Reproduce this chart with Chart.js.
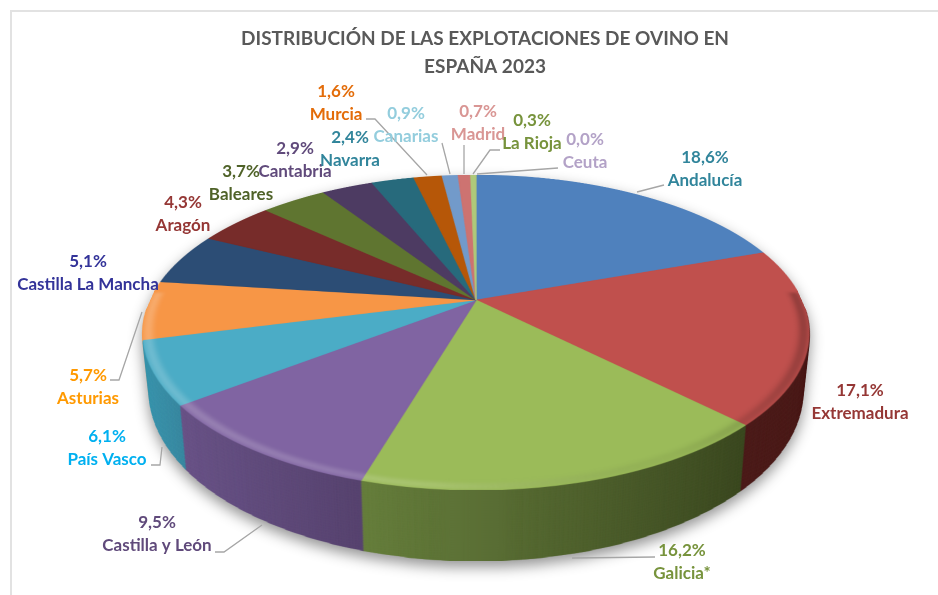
<!DOCTYPE html>
<html>
<head>
<meta charset="utf-8">
<script src="https://cdn.jsdelivr.net/npm/chart.js@4"></script>
<style>
  html, body { margin: 0; background: #fff; overflow: hidden; }
  #frame { position: absolute; left: 10px; top: 10px; width: 940px; height: 600px; border: 2px solid #e2e2e2; box-sizing: border-box; }
  #myChart { position: absolute; left: 0; top: 0; }
</style>
</head>
<body>
<div id="frame"></div>
<canvas id="myChart" width="938" height="595"></canvas>
<script>
var categories = ["Andalucía", "Extremadura", "Galicia*", "Castilla y León", "País Vasco", "Asturias", "Castilla La Mancha", "Aragón", "Baleares", "Cantabria", "Navarra", "Murcia", "Canarias", "Madrid", "La Rioja", "Ceuta"];
var shares = [18.6, 17.1, 16.2, 9.5, 6.1, 5.7, 5.1, 4.3, 3.7, 2.9, 2.4, 1.6, 0.9, 0.7, 0.3, 0.0];

var sliceColors = ["#4f81bd", "#c0504d", "#9bbb59", "#8064a2", "#4bacc6", "#f79646", "#2c4d75", "#772c2a", "#5f7530", "#4d3b62", "#276a7c", "#b65708", "#729aca", "#cd7371", "#afc97a", "#a18bbb"];
var wallLeft = ["#2f4d71", "#4e1e1c", "#677f3d", "#6b5589", "#3f9ab2", "#f79646", "#2c4d75", "#772c2a", "#5f7530", "#4d3b62", "#276a7c", "#b65708", "#729aca", "#cd7371", "#afc97a", "#a18bbb"];
var wallRight = ["#2f4d71", "#4e1e1c", "#3d4a22", "#584470", "#3b8aa2", "#f79646", "#2c4d75", "#772c2a", "#5f7530", "#4d3b62", "#276a7c", "#b65708", "#729aca", "#cd7371", "#afc97a", "#a18bbb"];
var textColors = ["#31859b", "#953735", "#77933c", "#604a7b", "#00b0f0", "#ff9900", "#333399", "#953735", "#4f6228", "#604a7b", "#31859b", "#e36c09", "#93cddd", "#d99694", "#77933c", "#b3a2c7"];

// text centre of each label, first line
var labelAt = [[705, 158], [860, 391], [682, 551], [157, 523], [107, 437], [88, 376], [88, 262], [183, 203], [241, 172], [295, 149], [350, 138], [336, 92], [406, 114], [478, 112], [532, 121], [585, 140]];
var leaders = [
  [[664, 185], [637, 192]],
  [[655, 557], [572, 558]],
  [[215, 552], [224, 552], [262, 525]],
  [[151, 465], [160, 465], [162, 447]],
  [[110, 380], [119, 380], [142, 312]],
  [[366, 119], [375, 119], [427, 175]],
  [[442, 143], [450, 174]],
  [[464, 145], [464, 174]],
  [[500, 150], [490, 150], [473, 174]],
  [[558, 168], [477, 174]]
];

// perspective of the pie plane, apex is where the slices meet
var apexX = 476, apexY = 300;
var planeA = 325.8, planeB = 150.8, planeK = 0.206;
var yBack = 175, yFront = 490, depth = 56, narrowing = 0.02;
var flatR = 400, superSample = 2;

var makeCanvas = function (w, h) {
  var c = document.createElement("canvas");
  c.width = w;
  c.height = h;
  return c;
};

var flatPie = function (arcs, fillFor) {
  var flat = makeCanvas(flatR * 2, flatR * 2);
  var fctx = flat.getContext("2d");
  var scale = flatR / arcs[0].outerRadius;
  fctx.save();
  fctx.translate(flatR, flatR);
  fctx.scale(scale, scale);
  fctx.translate(-arcs[0].x, -arcs[0].y);
  arcs.forEach(function (arc, i) {
    if (!arc.circumference) return;
    var saved = arc.options;
    var fill = fillFor(fctx, arc, i);
    arc.options = Object.assign({}, saved, { backgroundColor: fill, borderColor: fill });
    arc.draw(fctx);
    arc.options = saved;
  });
  fctx.restore();
  return flat;
};

var warpRows = function (target, flat, from, to, drop) {
  var step = 1 / superSample;
  for (var py = from; py < to; py += step) {
    var yr = py - apexY;
    var v = yr / (planeB + planeK * yr);
    var vNext = (yr + step) / (planeB + planeK * (yr + step));
    var w = 1 - planeK * v;
    var half = planeA / w * (1 - narrowing * drop / depth);
    var off = Math.round(drop / w * superSample) / superSample;
    target.drawImage(flat, 0, (v + 1) * flatR, flatR * 2, (vNext - v) * flatR,
      apexX - half, py + off, half * 2, drop ? step * 2 : step);
  }
};

var addRim = function (flat) {
  // lit edge along the front of the top face
  var fctx = flat.getContext("2d");
  var g = fctx.createLinearGradient(0, 0, flatR * 2, 0);
  g.addColorStop(0, "rgba(255,255,255,0.22)");
  g.addColorStop(0.45, "rgba(255,255,255,0.14)");
  g.addColorStop(0.75, "rgba(0,0,0,0.05)");
  g.addColorStop(1, "rgba(0,0,0,0.25)");
  fctx.save();
  fctx.globalCompositeOperation = "source-atop";
  fctx.filter = "blur(3px)";
  fctx.strokeStyle = g;
  fctx.lineWidth = 10;
  fctx.beginPath();
  fctx.arc(flatR, flatR, flatR - 6, -0.05, Math.PI + 0.05);
  fctx.stroke();
  fctx.restore();
};

var pie3d = {
  id: "pie3d",
  beforeDatasetsDraw: function (chart) {
    var arcs = chart.getDatasetMeta(0).data;
    var wall = flatPie(arcs, function (c, arc, i) {
      var x0 = arc.x + Math.cos(arc.startAngle) * arc.outerRadius;
      var x1 = arc.x + Math.cos(arc.endAngle) * arc.outerRadius;
      var g = c.createLinearGradient(Math.min(x0, x1), 0, Math.max(x0, x1), 0);
      g.addColorStop(0, wallLeft[i]);
      g.addColorStop(1, wallRight[i]);
      return g;
    });
    var top = flatPie(arcs, function (c, arc, i) { return sliceColors[i]; });
    addRim(top);

    var solid = makeCanvas(chart.width * superSample, chart.height * superSample);
    var sctx = solid.getContext("2d");
    sctx.scale(superSample, superSample);
    for (var d = depth; d > 0; d -= 0.5) {
      warpRows(sctx, wall, apexY, yFront, d);
    }
    warpRows(sctx, top, yBack, yFront, 0);

    var ctx = chart.ctx;
    ctx.save();
    ctx.shadowColor = "rgba(0,0,0,0.42)";
    ctx.shadowBlur = 14;
    ctx.shadowOffsetY = 6;
    ctx.imageSmoothingQuality = "high";
    ctx.drawImage(solid, 0, 0, chart.width, chart.height);
    ctx.restore();
    return false;
  },
  afterDraw: function (chart) {
    var ctx = chart.ctx;
    ctx.save();
    ctx.strokeStyle = "#a6a6a6";
    ctx.lineWidth = 1.3;
    leaders.forEach(function (pts) {
      ctx.beginPath();
      pts.forEach(function (p, i) {
        if (i === 0) ctx.moveTo(p[0], p[1]);
        else ctx.lineTo(p[0], p[1]);
      });
      ctx.stroke();
    });
    ctx.font = "bold 17px Lato";
    ctx.textAlign = "center";
    ctx.textBaseline = "middle";
    categories.forEach(function (name, i) {
      ctx.fillStyle = textColors[i];
      ctx.fillText(shares[i].toFixed(1).replace(".", ",") + "%", labelAt[i][0], labelAt[i][1]);
      ctx.fillText(name, labelAt[i][0], labelAt[i][1] + 23);
    });
    ctx.restore();
  }
};

var myPieChart = new Chart(document.getElementById("myChart"), {
  type: "pie",
  data: {
    labels: categories,
    datasets: [{
      data: shares,
      backgroundColor: sliceColors,
      borderColor: sliceColors,
      borderWidth: 1
    }]
  },
  options: {
    responsive: false,
    animation: false,
    layout: { padding: { left: 32, top: 15 } },
    plugins: {
      legend: { display: false },
      tooltip: { enabled: false },
      title: {
        display: true,
        text: ["DISTRIBUCIÓN DE LAS EXPLOTACIONES DE OVINO EN", "ESPAÑA 2023"],
        color: "#595959",
        font: { family: "Lato", size: 19, weight: "bold", lineHeight: 1.47 }
      }
    }
  },
  plugins: [pie3d]
});
</script>
</body>
</html>
